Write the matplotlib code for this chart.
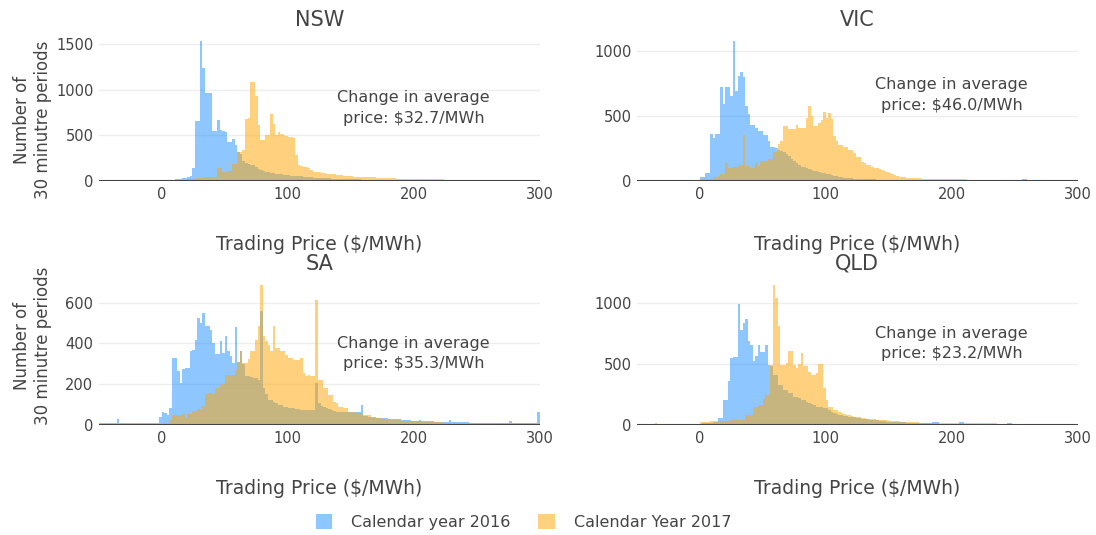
import matplotlib.pyplot as plt
from matplotlib.patches import Patch
from matplotlib.ticker import MultipleLocator
import numpy as np

# histogram bins: 2 $/MWh wide, from -50 to 300
bin_start, bin_stop, bin_width = -50, 300, 2

regions = ['NSW', 'VIC', 'SA', 'QLD']
price_change = ['32.7', '46.0', '35.3', '23.2']
series_names = ['Calendar year 2016', 'Calendar Year 2017']

# counts of 30 minute periods per bin (rows of 10 bins = 20 $/MWh)
nsw_2016 = [
    2, 2, 2, 2, 2, 2, 2, 2, 2, 2,
    2, 2, 2, 2, 2, 3, 3, 3, 3, 3,
    3, 3, 4, 4, 5, 10, 12, 15, 15, 15,
    18, 20, 25, 30, 35, 45, 55, 140, 660, 660,
    1530, 1240, 960, 960, 960, 545, 545, 670, 560, 550,
    540, 430, 430, 460, 390, 320, 300, 220, 200, 190,
    180, 170, 150, 130, 120, 110, 100, 95, 90, 85,
    80, 75, 75, 70, 70, 65, 60, 58, 55, 52,
    50, 48, 45, 42, 40, 38, 36, 34, 32, 30,
    29, 28, 27, 26, 25, 24, 23, 22, 21, 20,
    19, 18, 18, 17, 16, 16, 15, 15, 14, 14,
    13, 13, 12, 12, 12, 11, 11, 10, 10, 10,
    10, 9, 9, 9, 9, 8, 8, 8, 8, 8,
    7, 7, 7, 7, 7, 6, 6, 6, 6, 6,
    6, 6, 5, 5, 5, 5, 5, 5, 5, 5,
    5, 5, 4, 4, 4, 4, 4, 4, 4, 4,
    4, 4, 4, 4, 4, 3, 3, 3, 3, 3,
    3, 3, 3, 3, 3,
]
nsw_2017 = [
    1, 1, 1, 1, 1, 1, 1, 1, 1, 1,
    1, 1, 1, 1, 1, 2, 2, 2, 2, 2,
    2, 2, 3, 3, 3, 5, 5, 8, 8, 10,
    10, 12, 12, 15, 15, 18, 20, 25, 30, 30,
    35, 35, 40, 40, 40, 40, 40, 145, 140, 100,
    100, 115, 115, 190, 190, 320, 320, 340, 680, 690,
    1090, 1080, 930, 610, 450, 450, 500, 500, 730, 630,
    500, 540, 520, 500, 490, 480, 480, 470, 290, 180,
    160, 150, 150, 140, 120, 100, 100, 95, 90, 85,
    80, 80, 75, 75, 70, 70, 65, 60, 55, 55,
    50, 48, 46, 44, 42, 42, 40, 40, 40, 39,
    38, 36, 34, 32, 31, 30, 29, 28, 27, 26,
    26, 25, 24, 24, 23, 22, 22, 21, 20, 20,
    19, 19, 18, 18, 17, 17, 17, 16, 16, 16,
    15, 15, 15, 15, 14, 14, 14, 14, 14, 13,
    13, 13, 13, 13, 13, 12, 12, 12, 12, 12,
    12, 12, 11, 11, 11, 11, 11, 11, 10, 10,
    10, 10, 10, 10, 10,
]
vic_2016 = [
    5, 5, 5, 5, 5, 5, 5, 5, 5, 5,
    5, 5, 5, 5, 5, 6, 6, 6, 6, 6,
    8, 10, 10, 10, 10, 30, 30, 60, 60, 360,
    330, 360, 360, 720, 590, 717, 717, 653, 1070, 692,
    808, 839, 795, 575, 510, 433, 433, 407, 381, 381,
    355, 355, 303, 264, 264, 251, 240, 230, 220, 210,
    190, 170, 150, 140, 120, 110, 110, 100, 90, 85,
    80, 75, 70, 65, 60, 55, 50, 45, 40, 35,
    30, 28, 26, 24, 22, 20, 19, 18, 17, 16,
    15, 14, 13, 12, 12, 11, 11, 10, 10, 10,
    9, 9, 9, 8, 8, 8, 8, 7, 7, 7,
    7, 7, 6, 6, 6, 6, 6, 6, 5, 5,
    5, 5, 5, 5, 5, 5, 5, 5, 5, 5,
    5, 5, 5, 5, 4, 4, 4, 4, 4, 4,
    4, 4, 4, 4, 4, 4, 4, 4, 4, 4,
    4, 4, 4, 12, 12, 4, 4, 4, 4, 4,
    4, 4, 4, 4, 4, 4, 4, 4, 4, 4,
    4, 4, 4, 4, 10,
]
vic_2017 = [
    3, 3, 3, 3, 3, 3, 3, 3, 3, 3,
    3, 3, 3, 3, 3, 3, 3, 3, 3, 3,
    5, 5, 5, 5, 5, 15, 15, 15, 15, 15,
    30, 30, 40, 50, 50, 135, 100, 100, 110, 110,
    120, 120, 355, 115, 115, 100, 100, 135, 115, 150,
    150, 150, 170, 170, 225, 225, 280, 310, 420, 420,
    400, 395, 395, 433, 407, 407, 407, 485, 575, 500,
    420, 420, 446, 470, 530, 485, 518, 475, 342, 303,
    277, 277, 259, 259, 238, 238, 212, 186, 186, 148,
    140, 125, 119, 110, 100, 96, 90, 85, 80, 70,
    60, 50, 44, 38, 34, 30, 28, 26, 25, 24,
    22, 21, 20, 19, 18, 17, 16, 16, 15, 15,
    15, 14, 14, 14, 13, 13, 13, 12, 12, 12,
    12, 11, 11, 11, 11, 10, 10, 10, 10, 10,
    10, 10, 9, 9, 9, 9, 9, 9, 8, 8,
    8, 8, 8, 8, 8, 8, 7, 7, 7, 7,
    7, 7, 7, 7, 7, 6, 6, 6, 6, 6,
    6, 6, 6, 6, 6,
]
sa_2016 = [
    10, 10, 10, 12, 12, 12, 12, 28, 12, 10,
    8, 8, 8, 8, 8, 8, 8, 8, 8, 8,
    8, 8, 8, 8, 40, 66, 60, 50, 82, 328,
    328, 263, 205, 274, 279, 279, 361, 369, 418, 525,
    500, 552, 484, 484, 467, 402, 349, 349, 410, 352,
    435, 361, 340, 303, 480, 310, 365, 300, 240, 240,
    235, 230, 230, 220, 557, 180, 150, 123, 123, 115,
    110, 98, 98, 90, 90, 85, 82, 82, 80, 78,
    75, 74, 74, 72, 72, 74, 205, 110, 95, 90,
    82, 80, 75, 70, 66, 66, 66, 66, 66, 66,
    66, 66, 66, 66, 98, 45, 42, 40, 40, 38,
    36, 35, 34, 33, 32, 31, 30, 29, 28, 27,
    26, 25, 24, 23, 22, 22, 21, 25, 20, 20,
    19, 18, 18, 17, 17, 16, 16, 16, 15, 25,
    15, 14, 14, 14, 13, 13, 13, 12, 12, 12,
    12, 11, 11, 11, 11, 10, 10, 10, 10, 10,
    10, 9, 9, 22, 9, 9, 9, 9, 8, 8,
    8, 8, 8, 8, 64,
]
sa_2017 = [
    3, 3, 3, 3, 3, 3, 3, 3, 3, 3,
    3, 3, 3, 3, 3, 3, 3, 3, 3, 3,
    4, 4, 5, 5, 5, 8, 8, 10, 25, 47,
    47, 47, 47, 54, 34, 52, 52, 69, 69, 77,
    77, 93, 150, 157, 157, 150, 180, 180, 197, 200,
    246, 246, 246, 246, 270, 310, 365, 303, 303, 326,
    361, 361, 418, 484, 685, 435, 410, 393, 361, 484,
    377, 377, 361, 361, 344, 328, 328, 320, 320, 320,
    328, 254, 238, 246, 238, 238, 615, 221, 221, 180,
    180, 148, 148, 115, 107, 90, 90, 82, 82, 66,
    66, 66, 57, 57, 57, 49, 49, 49, 36, 36,
    36, 36, 30, 30, 30, 30, 25, 25, 25, 25,
    21, 21, 21, 21, 21, 21, 21, 21, 16, 16,
    16, 16, 16, 16, 16, 16, 16, 11, 11, 11,
    11, 11, 11, 11, 11, 11, 11, 11, 11, 11,
    11, 11, 11, 11, 11, 11, 11, 11, 11, 11,
    11, 11, 11, 11, 11, 11, 11, 11, 11, 11,
    11, 11, 11, 11, 11,
]
qld_2016 = [
    3, 3, 3, 3, 3, 3, 3, 3, 3, 3,
    3, 3, 3, 3, 3, 3, 3, 3, 3, 3,
    3, 3, 3, 3, 4, 5, 14, 14, 14, 14,
    22, 22, 60, 60, 205, 205, 362, 553, 560, 560,
    992, 781, 833, 871, 690, 653, 521, 562, 653, 597,
    597, 653, 493, 480, 411, 411, 329, 329, 288, 288,
    260, 260, 233, 233, 220, 205, 205, 190, 178, 170,
    160, 150, 150, 145, 140, 137, 125, 110, 100, 90,
    82, 78, 75, 70, 68, 66, 62, 58, 55, 50,
    49, 47, 45, 42, 40, 38, 35, 32, 30, 28,
    27, 26, 25, 24, 23, 22, 21, 20, 19, 18,
    17, 16, 15, 15, 14, 14, 13, 22, 22, 22,
    12, 11, 11, 11, 10, 10, 10, 10, 22, 22,
    9, 9, 9, 9, 8, 8, 8, 8, 8, 8,
    8, 8, 8, 8, 8, 8, 8, 18, 18, 7,
    7, 7, 7, 7, 6, 6, 6, 6, 6, 6,
    6, 6, 5, 5, 5, 5, 5, 5, 5, 5,
    5, 5, 5, 5, 5,
]
qld_2017 = [
    2, 2, 2, 2, 2, 2, 2, 15, 2, 2,
    2, 2, 2, 2, 2, 2, 2, 2, 2, 2,
    3, 3, 3, 3, 5, 27, 27, 27, 27, 33,
    33, 33, 33, 33, 33, 33, 33, 41, 41, 41,
    41, 41, 41, 82, 82, 82, 151, 151, 164, 164,
    214, 247, 247, 493, 1145, 1041, 808, 493, 493, 507,
    608, 608, 493, 466, 499, 589, 480, 480, 438, 411,
    411, 425, 499, 499, 301, 205, 151, 151, 123, 123,
    104, 100, 90, 82, 78, 72, 68, 65, 62, 58,
    55, 52, 50, 48, 46, 44, 42, 41, 40, 38,
    36, 34, 32, 30, 28, 27, 26, 25, 24, 23,
    22, 21, 20, 20, 19, 19, 18, 18, 17, 17,
    17, 16, 16, 16, 15, 15, 15, 15, 14, 14,
    14, 14, 14, 14, 14, 13, 13, 13, 13, 13,
    13, 13, 13, 12, 12, 12, 12, 12, 12, 12,
    12, 11, 11, 11, 11, 11, 11, 11, 10, 10,
    10, 10, 10, 10, 10, 10, 10, 9, 9, 9,
    9, 9, 9, 9, 9,
]

counts_2016 = [nsw_2016, vic_2016, sa_2016, qld_2016]
counts_2017 = [nsw_2017, vic_2017, sa_2017, qld_2017]

# layout (pixels of the 1096x535 canvas)
W, H = 1096, 535
col_lr = [(99, 539.5), (637, 1077.5)]
row_tb = [(34, 181), (278, 425)]
ytick_step = [500, 500, 200, 500]
note_y = [800, 660, 350, 670]
ytitle_y = [120, 346]

blue = '#1E90FF'
orange = '#FFA500'
txt = '#444444'

plt.rcParams['font.family'] = ['DejaVu Sans']
plt.rcParams['text.color'] = txt

edges = np.arange(bin_start, bin_stop + bin_width, bin_width)

fig = plt.figure(figsize=(W / 100, H / 100), dpi=100)

for i, region in enumerate(regions):
    r, c = divmod(i, 2)
    l, rt = col_lr[c]
    t, b = row_tb[r]
    ax = fig.add_axes([l / W, 1 - b / H, (rt - l) / W, (b - t) / H])

    ax.stairs(counts_2016[i], edges, fill=True, color=blue, alpha=0.5, lw=0)
    ax.stairs(counts_2017[i], edges, fill=True, color=orange, alpha=0.5, lw=0)
    ax.axhline(0, color=txt, lw=1.5, zorder=5)

    ax.set_xlim(bin_start, bin_stop)
    ymax = max(max(counts_2016[i]), max(counts_2017[i]))
    ax.set_ylim(0, ymax * 1.053)
    ax.xaxis.set_major_locator(MultipleLocator(100))
    ax.yaxis.set_major_locator(MultipleLocator(ytick_step[i]))
    ax.grid(axis='y', color='#eeeeee', lw=1)
    ax.set_axisbelow(True)
    for s in ax.spines.values():
        s.set_visible(False)
    ax.tick_params(length=0, labelsize=10.5, labelcolor=txt, pad=4)

    ax.text(0.5, 1 + 14 / (b - t), region, transform=ax.transAxes,
            ha='center', va='center', fontsize=15)
    ax.text(0.5, -(244 - 181) / (b - t), 'Trading Price ($/MWh)', transform=ax.transAxes,
            ha='center', va='center', fontsize=13.5)
    ax.text(200, note_y[i], 'Change in average\nprice: $' + price_change[i] + '/MWh',
            ha='center', va='center', fontsize=11.5, linespacing=1.45)
    if c == 0:
        ax.text(-(l - 32.5) / (rt - l), (b - ytitle_y[r]) / (b - t),
                'Number of\n30 minutre periods', transform=ax.transAxes,
                rotation=90, ha='center', va='center', fontsize=12, linespacing=1.25)

handles = [Patch(facecolor=blue, alpha=0.5, lw=0, label=series_names[0]),
           Patch(facecolor=orange, alpha=0.5, lw=0, label=series_names[1])]
fig.legend(handles=handles, loc='center', bbox_to_anchor=(523.5 / W, 1 - 522 / H),
           ncol=2, frameon=False, fontsize=11.5, handlelength=1.05, handleheight=1.05,
           handletextpad=1.2, columnspacing=1.7)

fig.savefig('out.png', dpi=100)
